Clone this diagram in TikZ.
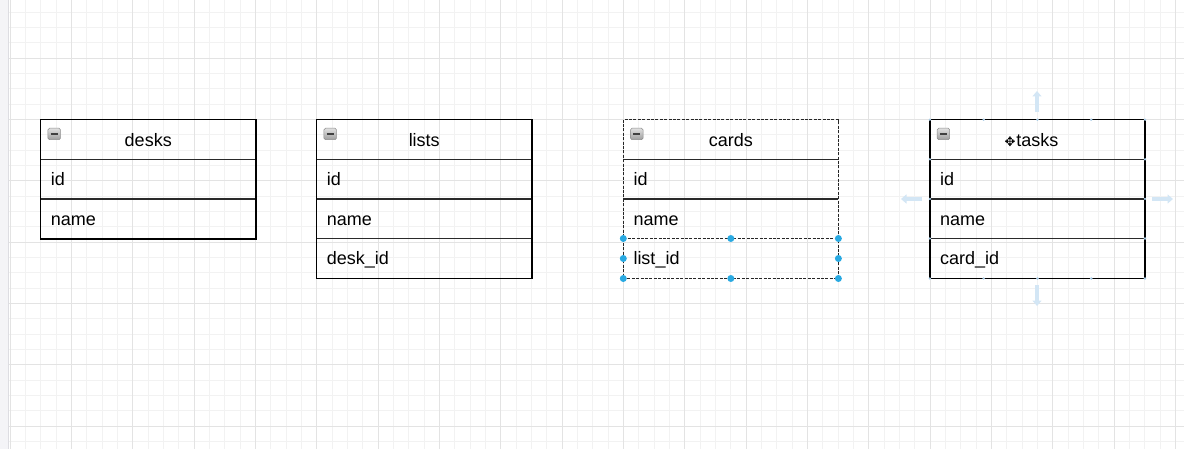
\documentclass[tikz,border=0pt]{standalone}
\usepackage{fontspec}
\setmainfont{Liberation Sans}
\newfontfamily\symfont{DejaVu Sans}
\usetikzlibrary{arrows.meta,calc}
\definecolor{gridminor}{HTML}{F2F2F2}
\definecolor{gridmajor}{HTML}{E3E3E3}
\definecolor{strip}{HTML}{F4F4F7}
\definecolor{stripline}{HTML}{DDDDE2}
\definecolor{sel}{HTML}{29A9E1}
\definecolor{hover}{HTML}{D3E6F5}
\definecolor{hoverdot}{HTML}{A9CCE6}
\definecolor{sepcol}{HTML}{2A2A2A}
\tikzset{
  hcell/.style={inner sep=0pt, minimum width=214.7pt, minimum height=39.6pt,
    text width=194.7pt, align=center, text height=13pt, text depth=0pt, anchor=north west},
  rcell/.style={inner sep=0pt, minimum width=214.7pt, minimum height=39.6pt,
    text width=194.7pt, align=left, text height=13pt, text depth=0pt, anchor=north west},
  outline/.style={line width=1.4pt, black, line join=miter},
  sepline/.style={line width=1.3pt, sepcol},
  dashedline/.style={line width=1.1pt, black!85, dash pattern=on 3pt off 1.4pt},
  collapsebox/.style={draw=black!45, line width=0.5pt, rounded corners=1.5pt,
    top color=black!12, bottom color=black!38, minimum width=12.5pt, minimum height=11.5pt,
    inner sep=0pt, anchor=north west,
    path picture={\draw[line width=1.5pt, black!75]
      ([xshift=2.6pt]path picture bounding box.west) -- ([xshift=-2.6pt]path picture bounding box.east);}},
  handle/.style={circle, fill=sel, inner sep=0pt, minimum size=7pt},
  faintdot/.style={circle, fill=hoverdot, inner sep=0pt, minimum size=2.6pt},
  hoverarrow/.style={hover, line width=3.2pt, -{Triangle[width=9pt,length=5.5pt]}},
}
\begin{document}
\begin{tikzpicture}[x=1pt,y=-1pt, font=\fontsize{18}{21}\selectfont]
\useasboundingbox (0,0) rectangle (1184,449);
\fill[white] (0,0) rectangle (1184,449);
% grid
\foreach \k in {0,...,76} {
  \pgfmathsetmacro{\gx}{10+15.3333*\k}
  \draw[gridminor, line width=0.8pt] (\gx,0) -- (\gx,449);
}
\foreach \k in {1,...,30} {
  \pgfmathsetmacro{\gy}{-3.3+15.3333*\k}
  \draw[gridminor, line width=0.8pt] (0,\gy) -- (1184,\gy);
}
\foreach \k in {0,4,...,76} {
  \pgfmathsetmacro{\gx}{10+15.3333*\k}
  \draw[gridmajor, line width=0.9pt] (\gx,0) -- (\gx,449);
}
\foreach \k in {4,8,...,28} {
  \pgfmathsetmacro{\gy}{-3.3+15.3333*\k}
  \draw[gridmajor, line width=0.9pt] (0,\gy) -- (1184,\gy);
}
\fill[strip] (0,0) rectangle (8.5,449);
\draw[stripline, line width=0.8pt] (8.5,0) -- (8.5,449);

% ---------- desks ----------
\node[hcell] (desks-h) at (40.7,119.7) {desks};
\node[rcell] (desks-1) at (40.7,159.3) {id};
\node[rcell] (desks-2) at (40.7,198.9) {name};
\node[collapsebox] (desks-c) at (47.7,128) {};
\draw[sepline] (desks-1.north west) -- (desks-1.north east);
\draw[sepline] (desks-2.north west) -- (desks-2.north east);
\draw[outline] (desks-h.north west) rectangle (desks-2.south east);

% ---------- lists ----------
\node[hcell] (lists-h) at (316.7,119.7) {lists};
\node[rcell] (lists-1) at (316.7,159.3) {id};
\node[rcell] (lists-2) at (316.7,198.9) {name};
\node[rcell] (lists-3) at (316.7,238.5) {desk\_id};
\node[collapsebox] (lists-c) at (323.7,128) {};
\draw[sepline] (lists-1.north west) -- (lists-1.north east);
\draw[sepline] (lists-2.north west) -- (lists-2.north east);
\draw[sepline] (lists-3.north west) -- (lists-3.north east);
\draw[outline] (lists-h.north west) rectangle (lists-3.south east);

% ---------- cards ----------
\node[hcell] (cards-h) at (623.3,119.7) {cards};
\node[rcell] (cards-1) at (623.3,159.3) {id};
\node[rcell] (cards-2) at (623.3,198.9) {name};
\node[rcell] (cards-3) at (623.3,238.5) {list\_id};
\node[collapsebox] (cards-c) at (630.3,128) {};
\draw[sepline] (cards-1.north west) -- (cards-1.north east);
\draw[sepline] (cards-2.north west) -- (cards-2.north east);
\draw[dashedline] (cards-h.north west) rectangle (cards-3.south east);
\draw[dashedline] (cards-3.north west) -- (cards-3.north east);
\foreach \a/\n in {north west/1, north/2, north east/3, west/4, east/5, south west/6, south/7, south east/8}
  \node[handle] (cards-hd\n) at (cards-3.\a) {};

% ---------- tasks ----------
\node[hcell] (tasks-h) at (929.9,119.7) {\llap{\symfont\fontsize{13}{13}\selectfont ✥\hspace{1pt}}tasks};
\node[rcell] (tasks-1) at (929.9,159.3) {id};
\node[rcell] (tasks-2) at (929.9,198.9) {name};
\node[rcell] (tasks-3) at (929.9,238.5) {card\_id};
\node[collapsebox] (tasks-c) at (936.9,128) {};
\draw[sepline] (tasks-1.north west) -- (tasks-1.north east);
\draw[sepline] (tasks-2.north west) -- (tasks-2.north east);
\draw[sepline] (tasks-3.north west) -- (tasks-3.north east);
\draw[outline] (tasks-h.north west) rectangle (tasks-3.south east);
% hover handles
\foreach \fx [count=\i] in {0,0.25,0.5,0.75,1} {
  \node[faintdot] (tasks-t\i) at ($(tasks-h.north west)!\fx!(tasks-h.north east)$) {};
  \node[faintdot] (tasks-b\i) at ($(tasks-3.south west)!\fx!(tasks-3.south east)$) {};
}
\foreach \r in {1,2,3} {
  \node[faintdot] (tasks-l\r) at (tasks-\r.north west) {};
  \node[faintdot] (tasks-r\r) at (tasks-\r.north east) {};
}
\coordinate (up-s) at (1037,112);
\coordinate (up-e) at (1037,91);
\coordinate (dn-s) at (1037,285);
\coordinate (dn-e) at (1037,306);
\coordinate (lf-s) at (922,199);
\coordinate (lf-e) at (901,199);
\coordinate (rt-s) at (1152,199);
\coordinate (rt-e) at (1173,199);
\draw[hoverarrow] (up-s) -- (up-e);
\draw[hoverarrow] (dn-s) -- (dn-e);
\draw[hoverarrow] (lf-s) -- (lf-e);
\draw[hoverarrow] (rt-s) -- (rt-e);
\end{tikzpicture}
\end{document}
